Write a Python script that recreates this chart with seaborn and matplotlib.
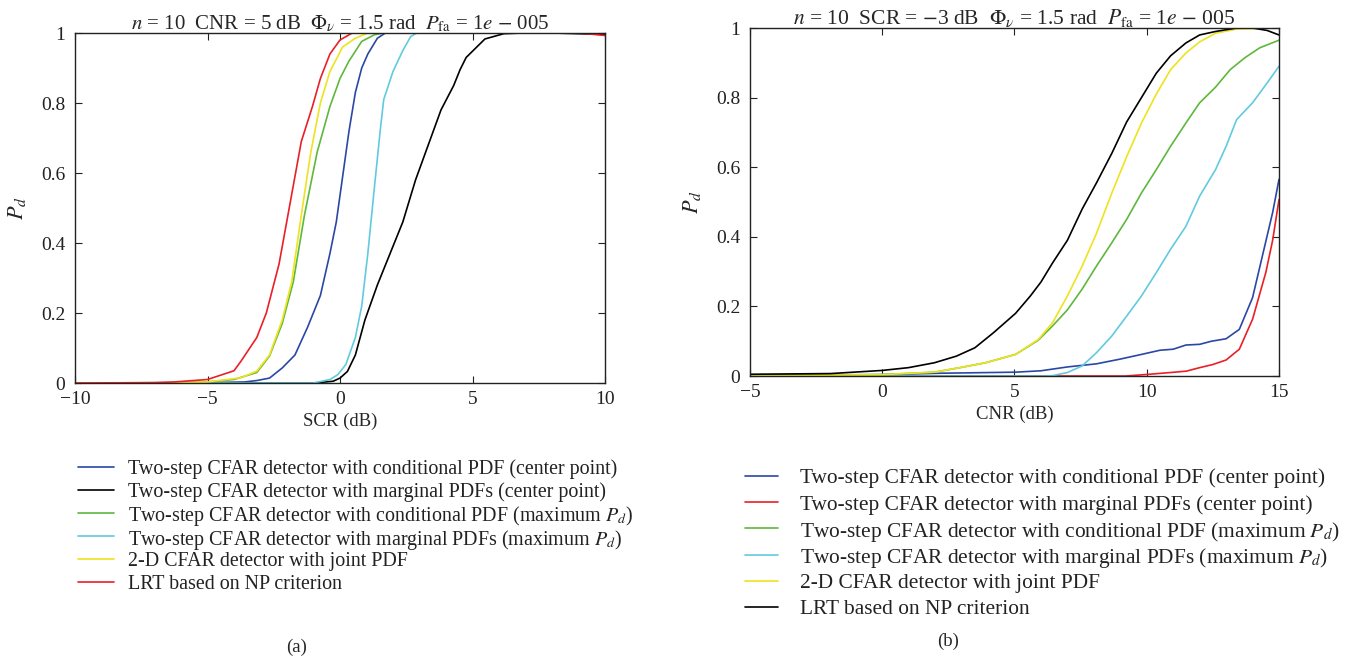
import numpy as np
import pandas as pd
import matplotlib
matplotlib.use("Agg")
import matplotlib.pyplot as plt
from matplotlib.lines import Line2D
import seaborn as sns

# ---------------- data: panel (a), x = SCR (dB) ----------------
blue_a_x = [-10, -5, -3.6, -3.14, -2.66, -2.18, -1.7, -1.22, -0.74, -0.38, -0.14, 0.1, 0.34, 0.58, 0.82, 1.05, 1.41, 1.71, 3, 10]
blue_a_y = [0, 0.001, 0.003, 0.007, 0.014, 0.043, 0.08, 0.16, 0.25, 0.37, 0.46, 0.59, 0.72, 0.83, 0.90, 0.94, 0.985, 1.0, 1.0, 1.0]
black_a_x = [-10, -1, -0.26, 0, 0.28, 0.58, 0.94, 1.41, 1.89, 2.37, 2.85, 3.33, 3.81, 4.29, 4.53, 4.76, 5.47, 6.18, 6.9, 8, 10]
black_a_y = [0, 0, 0.005, 0.014, 0.033, 0.08, 0.18, 0.28, 0.37, 0.46, 0.58, 0.68, 0.78, 0.85, 0.895, 0.93, 0.983, 0.998, 1.0, 1.0, 0.996]
green_a_x = [-10, -6, -5, -4, -3.14, -2.66, -2.18, -1.76, -1.34, -0.86, -0.38, 0, 0.34, 0.82, 1.3, 1.65, 3, 10]
green_a_y = [0, 0.001, 0.003, 0.01, 0.03, 0.077, 0.17, 0.29, 0.48, 0.66, 0.79, 0.87, 0.92, 0.976, 0.995, 1.0, 1.0, 1.0]
cyan_a_x = [-10, -1, -0.38, -0.08, 0.22, 0.58, 0.82, 1.05, 1.3, 1.53, 1.65, 2.0, 2.37, 2.67, 2.9, 5, 10]
cyan_a_y = [0, 0, 0.01, 0.024, 0.053, 0.13, 0.22, 0.37, 0.56, 0.73, 0.81, 0.89, 0.95, 0.99, 1.0, 1.0, 1.0]
yellow_a_x = [-10, -6, -5, -3.74, -3.14, -2.66, -2.18, -1.82, -1.46, -1.1, -0.74, -0.38, 0.1, 0.58, 1.05, 3, 10]
yellow_a_y = [0, 0.001, 0.003, 0.015, 0.034, 0.08, 0.18, 0.29, 0.48, 0.66, 0.80, 0.89, 0.96, 0.985, 1.0, 1.0, 1.0]
red_a_x = [-10, -7, -6.26, -5, -4.0, -3.74, -3.14, -2.78, -2.3, -1.82, -1.46, -1.04, -0.74, -0.38, 0, 0.46, 3, 9, 10]
red_a_y = [0, 0.001, 0.003, 0.01, 0.035, 0.062, 0.13, 0.2, 0.34, 0.54, 0.69, 0.79, 0.87, 0.94, 0.98, 1.0, 1.0, 1.0, 0.993]

# ---------------- data: panel (b), x = CNR (dB) ----------------
blue_b_x = [-5, 0, 2.24, 5.04, 6.0, 7.0, 8.1, 8.96, 9.8, 10.5, 11.0, 11.48, 12.0, 12.45, 13.0, 13.5, 14.0, 14.4, 14.76, 15]
blue_b_y = [0.002, 0.004, 0.008, 0.011, 0.015, 0.026, 0.035, 0.048, 0.062, 0.074, 0.077, 0.089, 0.091, 0.10, 0.107, 0.134, 0.225, 0.354, 0.47, 0.565]
red_b_x = [-5, 5, 9.2, 10.1, 10.9, 11.5, 12.0, 12.5, 13.0, 13.5, 14.0, 14.5, 14.76, 15]
red_b_y = [0, 0, 0, 0.005, 0.01, 0.014, 0.024, 0.033, 0.046, 0.077, 0.163, 0.297, 0.39, 0.507]
green_b_x = [-5, 0, 1.97, 2.94, 3.9, 5.04, 5.9, 6.44, 7.0, 7.56, 8.1, 8.68, 9.24, 9.8, 10.36, 10.9, 11.48, 12.0, 12.6, 13.15, 13.7, 14.27, 15]
green_b_y = [0, 0.004, 0.011, 0.024, 0.038, 0.062, 0.103, 0.144, 0.19, 0.25, 0.316, 0.383, 0.45, 0.526, 0.593, 0.66, 0.727, 0.785, 0.83, 0.88, 0.914, 0.943, 0.965]
cyan_b_x = [-5, 6.16, 6.44, 7.0, 7.56, 8.1, 8.68, 9.24, 9.8, 10.36, 10.9, 11.48, 12.0, 12.6, 13.0, 13.4, 14.0, 14.55, 15]
cyan_b_y = [0, 0, 0.001, 0.01, 0.029, 0.067, 0.115, 0.172, 0.23, 0.297, 0.364, 0.43, 0.517, 0.593, 0.66, 0.737, 0.785, 0.842, 0.89]
yellow_b_x = [-5, 0, 1.97, 2.94, 3.9, 5.04, 5.9, 6.44, 7.0, 7.56, 8.1, 8.68, 9.24, 9.8, 10.36, 10.9, 11.48, 12.0, 12.6, 13.4, 15]
yellow_b_y = [0, 0.004, 0.011, 0.024, 0.038, 0.062, 0.105, 0.153, 0.23, 0.316, 0.41, 0.526, 0.63, 0.727, 0.81, 0.88, 0.928, 0.96, 0.985, 0.997, 1.0]
black_b_x = [-5, -1.95, 0, 0.99, 1.97, 2.8, 3.5, 4.2, 5.04, 5.6, 6.0, 6.44, 7.0, 7.56, 8.1, 8.68, 9.24, 9.8, 10.36, 10.9, 11.48, 12.0, 12.6, 13.4, 14.0, 14.55, 15]
black_b_y = [0.005, 0.007, 0.016, 0.024, 0.038, 0.057, 0.081, 0.124, 0.18, 0.23, 0.27, 0.325, 0.39, 0.48, 0.555, 0.64, 0.73, 0.80, 0.87, 0.92, 0.957, 0.98, 0.99, 1.0, 1.0, 0.993, 0.98]

labels = [
    "Two-step CFAR detector with conditional PDF (center point)",
    "Two-step CFAR detector with marginal PDFs (center point)",
    r"Two-step CFAR detector with conditional PDF (maximum $P_d$)",
    r"Two-step CFAR detector with marginal PDFs (maximum $P_d$)",
    "2-D CFAR detector with joint PDF",
    "LRT based on NP criterion",
]
x_ticks_a = [-10, -5, 0, 5, 10]
x_ticks_b = [-5, 0, 5, 10, 15]
y_ticks = [0, 0.2, 0.4, 0.6, 0.8, 1]
y_ticklabels = ["0", "0.2", "0.4", "0.6", "0.8", "1"]

C_BLUE = "#2a47a6"
C_BLACK = "#000000"
C_GREEN = "#5db83c"
C_CYAN = "#62cadf"
C_YELLOW = "#efe21e"
C_RED = "#ea1f27"

sns.set_style("ticks")
plt.rcParams["font.family"] = ["Liberation Serif", "DejaVu Serif"]
plt.rcParams["mathtext.fontset"] = "stix"
plt.rcParams["font.size"] = 13

W, H = 1349, 662
fig = plt.figure(figsize=(W / 100, H / 100), dpi=100)
axA = fig.add_axes([75 / W, 1 - 383 / H, 530 / W, 350 / H])
axB = fig.add_axes([750 / W, 1 - 376 / H, 529 / W, 348 / H])

series_a = [
    (blue_a_x, blue_a_y, C_BLUE, labels[0]),
    (black_a_x, black_a_y, C_BLACK, labels[1]),
    (green_a_x, green_a_y, C_GREEN, labels[2]),
    (cyan_a_x, cyan_a_y, C_CYAN, labels[3]),
    (yellow_a_x, yellow_a_y, C_YELLOW, labels[4]),
    (red_a_x, red_a_y, C_RED, labels[5]),
]
series_b = [
    (blue_b_x, blue_b_y, C_BLUE, labels[0]),
    (red_b_x, red_b_y, C_RED, labels[1]),
    (green_b_x, green_b_y, C_GREEN, labels[2]),
    (cyan_b_x, cyan_b_y, C_CYAN, labels[3]),
    (yellow_b_x, yellow_b_y, C_YELLOW, labels[4]),
    (black_b_x, black_b_y, C_BLACK, labels[5]),
]

def draw(ax, series, xticks, xlabel, title, title_size):
    for xs, ys, col, lab in series:
        sns.lineplot(x=xs, y=ys, color=col, linewidth=1.2, ax=ax,
                     sort=False, estimator=None)
    ax.set_xlim(xticks[0], xticks[-1])
    ax.set_ylim(0, 1)
    ax.set_xticks(xticks)
    ax.set_xticklabels(["\u2212" + str(abs(t)) if t < 0 else str(t) for t in xticks])
    ax.set_yticks(y_ticks)
    ax.set_yticklabels(y_ticklabels)
    ax.tick_params(direction="in", top=True, right=True, length=5, width=0.8,
                   labelsize=14, colors="#222222")
    ax.tick_params(axis="y", pad=7)
    ax.tick_params(axis="x", pad=6)
    for s in ax.spines.values():
        s.set_visible(True)
        s.set_linewidth(1.0)
        s.set_color("#222222")
    ax.set_xlabel(xlabel, fontsize=13.5, labelpad=3)
    ax.set_ylabel(r"$P_d$", fontsize=16, labelpad=9)
    ax.set_title(title, fontsize=title_size, pad=3)

draw(axA, series_a, x_ticks_a, "SCR (dB)",
     r"$n$ = 10  CNR = 5 dB  $\Phi_\nu$ = 1.5 rad  $P_{\mathrm{fa}}$ = 1$e$ $-$ 005", 15)
draw(axB, series_b, x_ticks_b, "CNR (dB)",
     r"$n$ = 10  SCR = $-$3 dB  $\Phi_\nu$ = 1.5 rad  $P_{\mathrm{fa}}$ = 1$e$ $-$ 005", 15.5)

def legend_block(series, x0, x1, xt, y0, dy, size):
    for i, (_, _, col, lab) in enumerate(series):
        yy = 1 - (y0 + i * dy) / H
        fig.add_artist(Line2D([x0 / W, x1 / W], [yy, yy], transform=fig.transFigure,
                              color=col, linewidth=1.2))
        fig.text(xt / W, yy, lab, ha="left", va="center_baseline", fontsize=size,
                 color="#222222")

legend_block(series_a, 78, 114, 128, 467, 23.0, 14.4)
legend_block(series_b, 745, 778, 800, 476, 26.2, 15.4)

fig.text(297 / W, 1 - 647 / H, "(a)", ha="center", va="center", fontsize=13.5)
fig.text(948 / W, 1 - 641 / H, "(b)", ha="center", va="center", fontsize=13.5)

fig.savefig("out.png", dpi=100)
